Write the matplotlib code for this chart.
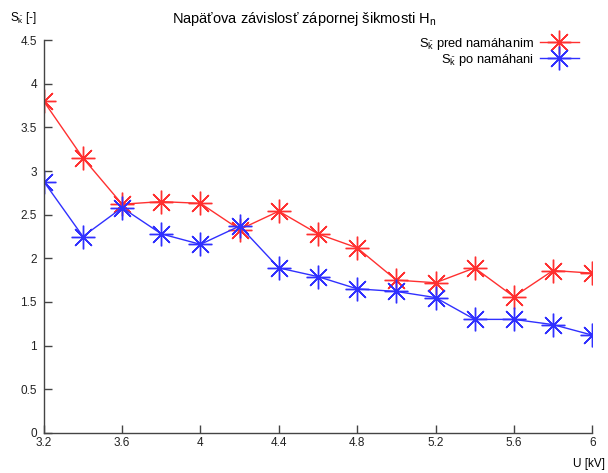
import matplotlib.pyplot as plt
import numpy as np
from matplotlib.ticker import FuncFormatter

plt.rcParams['font.family'] = ['Liberation Sans', 'DejaVu Sans']
plt.rcParams['mathtext.fontset'] = 'custom'
plt.rcParams['mathtext.rm'] = 'Liberation Sans'
plt.rcParams['mathtext.it'] = 'Liberation Sans'

# data
u_kv = [3.2, 3.4, 3.6, 3.8, 4.0, 4.2, 4.4, 4.6, 4.8, 5.0, 5.2, 5.4, 5.6, 5.8, 6.0]
sk_pred = [3.80, 3.15, 2.62, 2.65, 2.63, 2.33, 2.54, 2.28, 2.12, 1.75, 1.72, 1.89, 1.56, 1.86, 1.83]
sk_po = [2.88, 2.25, 2.58, 2.28, 2.16, 2.37, 1.89, 1.79, 1.65, 1.62, 1.55, 1.30, 1.30, 1.24, 1.12]

x_ticks = [3.2, 3.6, 4.0, 4.4, 4.8, 5.2, 5.6, 6.0]
y_ticks = [0, 0.5, 1, 1.5, 2, 2.5, 3, 3.5, 4, 4.5]

fig = plt.figure(figsize=(6.08, 4.73), dpi=100)
ax = fig.add_axes([0.072, 0.085, 0.902, 0.830])

star = (8, 2, 0)
ax.plot(u_kv, sk_pred, color='#ff3030', lw=1.0, marker=star, ms=17, mew=1.0,
        label=r'$\mathregular{S_{\bar{k}}}$ pred namáhanim')
ax.plot(u_kv, sk_po, color='#3030ff', lw=1.0, marker=star, ms=17, mew=1.0,
        label=r'$\mathregular{S_{\bar{k}}}$ po namáhani')

ax.set_xlim(3.2, 6.0)
ax.set_ylim(0, 4.5)
ax.set_xticks(x_ticks)
ax.set_yticks(y_ticks)
fmt = FuncFormatter(lambda v, p: '%g' % v)
ax.xaxis.set_major_formatter(fmt)
ax.yaxis.set_major_formatter(fmt)

for s in ['top', 'right']:
    ax.spines[s].set_visible(False)
for s in ['left', 'bottom']:
    ax.spines[s].set_color('#444444')
    ax.spines[s].set_linewidth(1.0)
ax.tick_params(direction='in', length=6, width=1.0, color='#444444',
               labelsize=8.5, labelcolor='#222222')
ax.tick_params(axis='x', pad=3)
ax.tick_params(axis='y', pad=5)

fig.text(0.5, 0.960, r'Napäťova závislosť zápornej šikmosti H$_\mathregular{n}$',
         ha='center', va='center', fontsize=10.5)
fig.text(0.017, 0.962, r'$\mathregular{S_{\bar{k}}}$ [-]', ha='left', va='center', fontsize=8.5)
fig.text(0.995, 0.018, 'U [kV]', ha='right', va='center', fontsize=8.5)

leg = ax.legend(loc='upper right', bbox_to_anchor=(0.985, 1.025), frameon=False,
                fontsize=9.3, markerfirst=False, handlelength=3.0, labelspacing=0.0,
                handletextpad=0.5, borderaxespad=0.0)

fig.savefig('out.png', dpi=100)
